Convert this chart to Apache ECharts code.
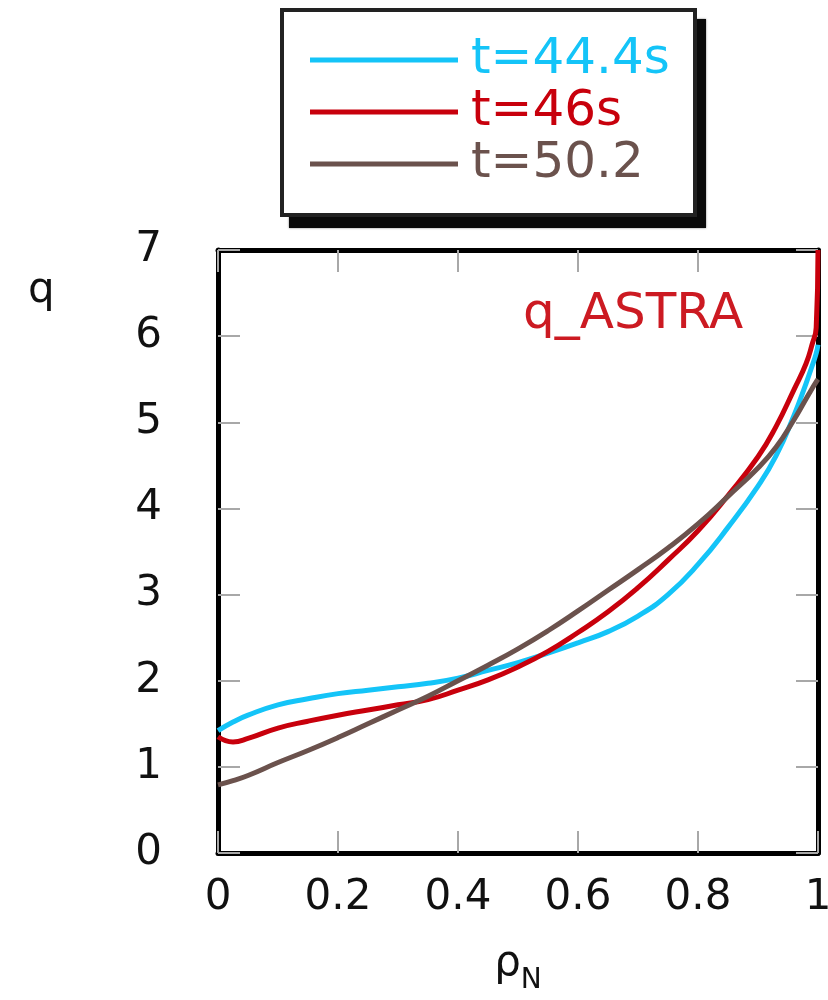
<!DOCTYPE html>
<html>
<head>
<meta charset="utf-8">
<style>
  html, body { margin: 0; padding: 0; background: #fff; }
  #chart { width: 828px; height: 1000px; }
</style>
<script src="https://cdn.jsdelivr.net/npm/echarts@6/dist/echarts.min.js"></script>
</head>
<body>
<div id="chart"></div>
<script>
// Normalised radius (rho_N) sample points shared by all profiles
const rho = [0, 0.025, 0.05, 0.1, 0.15, 0.2, 0.25, 0.3, 0.35, 0.4, 0.45, 0.5, 0.55,
             0.6, 0.65, 0.7, 0.75, 0.8, 0.85, 0.9, 0.93, 0.96, 0.98, 0.99, 0.997, 1.0];

// Safety factor q profiles from ASTRA at three times
const q_t44 = [1.42, 1.52, 1.60, 1.72, 1.79, 1.85, 1.89, 1.93, 1.97, 2.03, 2.12, 2.21, 2.32,
               2.44, 2.57, 2.75, 3.00, 3.35, 3.78, 4.26, 4.61, 5.08, 5.45, 5.65, 5.80, 5.90];
const q_t46 = [1.35, 1.29, 1.33, 1.45, 1.53, 1.60, 1.66, 1.72, 1.78, 1.89, 2.01, 2.16, 2.34,
               2.56, 2.80, 3.08, 3.40, 3.74, 4.15, 4.60, 4.95, 5.38, 5.68, 5.90, 6.10, 7.00];
const q_t50 = [0.79, 0.84, 0.90, 1.05, 1.19, 1.34, 1.50, 1.66, 1.82, 2.00, 2.18, 2.37, 2.58,
               2.81, 3.05, 3.29, 3.54, 3.82, 4.14, 4.47, 4.71, 5.03, 5.27, 5.39, 5.47, 5.50];

const seriesNames = ['t=44.4s', 't=46s', 't=50.2'];
const seriesColors = ['#14C4F8', '#C8000C', '#6B524D'];
const seriesValues = [q_t44, q_t46, q_t50];

const xTicks = { min: 0, max: 1, step: 0.2 };
const yTicks = { min: 0, max: 7, step: 1 };

const FONT = 'DejaVu Sans';

const chart = echarts.init(document.getElementById('chart'), null, { renderer: 'canvas' });

const frameLine = { show: true, onZero: false, lineStyle: { color: '#000', width: 5 } };
const innerTick = { show: true, inside: true, length: 22, lineStyle: { color: '#a8a8a8', width: 2 } };

// Legend frame: a black drop shadow behind a white box with a dark border
const legendBox = { x: 280, y: 8, w: 417, h: 209 };

const option = {
  backgroundColor: '#fff',
  animation: false,
  grid: { left: 218, top: 250, width: 600, height: 603, containLabel: false, outerBoundsMode: 'none' },
  legend: {
    orient: 'vertical',
    left: 280,
    top: 8,
    padding: [26, 30, 24, 30],
    itemWidth: 148,
    itemHeight: 5,
    itemGap: 0,
    icon: 'rect',
    backgroundColor: 'transparent',
    borderWidth: 0,
    z: 10,
    textStyle: { fontFamily: FONT, fontSize: 50, lineHeight: 52, padding: [0, 0, 0, 8] },
    data: seriesNames.map((n, i) => ({ name: n, textStyle: { color: seriesColors[i] } }))
  },
  xAxis: [
    {
      type: 'value', position: 'bottom',
      min: xTicks.min, max: xTicks.max, interval: xTicks.step,
      axisLine: frameLine, axisTick: innerTick, splitLine: { show: false },
      axisLabel: { fontFamily: FONT, fontSize: 42, color: '#111', margin: 24 },
      name: '{r|ρ}{n|N}',
      nameLocation: 'middle',
      nameGap: 80,
      nameTextStyle: {
        rich: {
          r: { fontFamily: FONT, fontSize: 42, color: '#111' },
          n: { fontFamily: FONT, fontSize: 28, color: '#111', padding: [34, 0, 0, 0] }
        }
      }
    },
    {
      type: 'value', position: 'top',
      min: xTicks.min, max: xTicks.max, interval: xTicks.step,
      axisLine: frameLine, axisTick: innerTick, axisLabel: { show: false }, splitLine: { show: false }
    }
  ],
  yAxis: [
    {
      type: 'value', position: 'left',
      min: yTicks.min, max: yTicks.max, interval: yTicks.step,
      axisLine: frameLine, axisTick: innerTick, splitLine: { show: false },
      axisLabel: { fontFamily: FONT, fontSize: 42, color: '#111', margin: 56 }
    },
    {
      type: 'value', position: 'right',
      min: yTicks.min, max: yTicks.max, interval: yTicks.step,
      axisLine: frameLine, axisTick: innerTick, axisLabel: { show: false }, splitLine: { show: false }
    }
  ],
  graphic: [
    {
      type: 'rect', z: 1, silent: true,
      shape: { x: legendBox.x + 9, y: legendBox.y + 11, width: legendBox.w, height: legendBox.h },
      style: { fill: '#0a0a0a', shadowBlur: 2, shadowColor: 'rgba(0,0,0,0.5)' }
    },
    {
      type: 'rect', z: 2, silent: true,
      shape: { x: legendBox.x + 2, y: legendBox.y + 2, width: legendBox.w - 4, height: legendBox.h - 4 },
      style: { fill: '#fff', stroke: '#222', lineWidth: 4 }
    },
    {
      type: 'text', left: 28, top: 270,
      style: { text: 'q', fontFamily: FONT, fontSize: 42, fill: '#111' }
    },
    {
      type: 'text', left: 523, top: 290,
      style: { text: 'q_ASTRA', fontFamily: FONT, fontSize: 50, fill: '#CC1A22' }
    }
  ],
  series: seriesNames.map((n, i) => ({
    name: n,
    type: 'line',
    xAxisIndex: 0,
    yAxisIndex: 0,
    showSymbol: false,
    symbol: 'none',
    smooth: 0.5,
    color: seriesColors[i],
    lineStyle: { width: 5, color: seriesColors[i] },
    data: rho.map((r, k) => [r, seriesValues[i][k]]),
    z: 3
  }))
};

chart.setOption(option);
</script>
</body>
</html>
